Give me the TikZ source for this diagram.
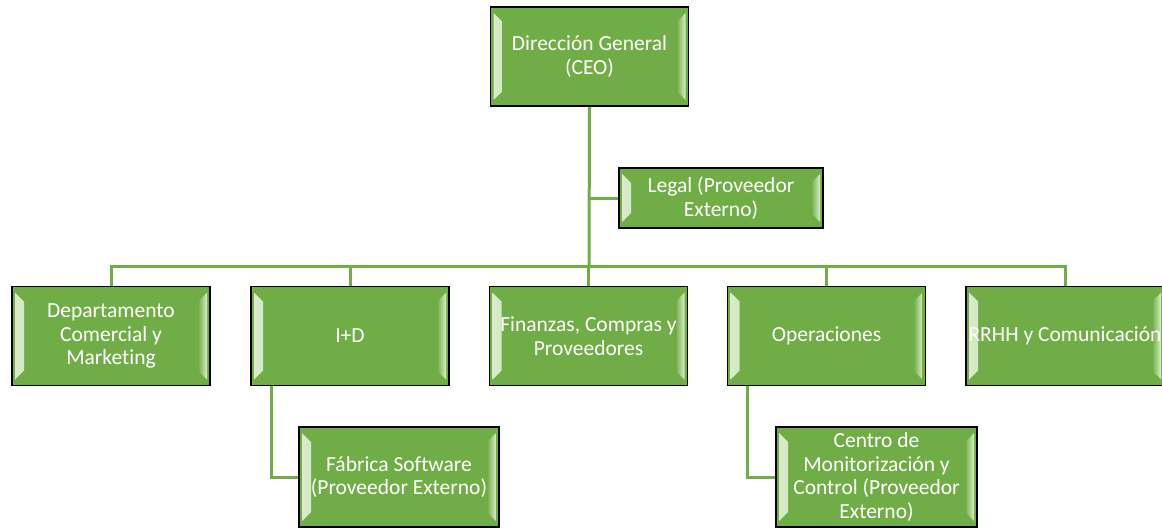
\documentclass[tikz,border=0pt]{standalone}
\usepackage{fontspec}
\setmainfont{Carlito}[Ligatures=NoCommon]
\definecolor{ogreen}{HTML}{70AD47}
\definecolor{olight}{HTML}{D9EDC9}
\begin{document}
\begin{tikzpicture}[x=1pt,y=-1pt,
  conn/.style={draw=ogreen, line width=3pt},
  bev/.style={draw=black, line width=1.8pt, fill=ogreen, text=white,
    minimum width=198pt, minimum height=99pt, inner sep=0pt, align=center,
    font=\fontsize{21.5}{23.5}\selectfont,
    path picture={
      \fill[left color=olight, right color=ogreen]
        ([shift={(3pt,-6pt)}]path picture bounding box.north west) --
        ([shift={(12pt,-15pt)}]path picture bounding box.north west) --
        ([shift={(12pt,15pt)}]path picture bounding box.south west) --
        ([shift={(3pt,6pt)}]path picture bounding box.south west) -- cycle;
      \fill[right color=olight, left color=ogreen]
        ([shift={(-3pt,-6pt)}]path picture bounding box.north east) --
        ([shift={(-12pt,-15pt)}]path picture bounding box.north east) --
        ([shift={(-12pt,15pt)}]path picture bounding box.south east) --
        ([shift={(-3pt,6pt)}]path picture bounding box.south east) -- cycle;
    }}]
\useasboundingbox (0,0) rectangle (1162,531);
\fill[white] (0,0) rectangle (1162,531);

\coordinate (bar) at (589,266);

\node[bev, minimum width=204pt, minimum height=60pt] (legal) at (721,198) {Legal (Proveedor\\Externo)};
\node[bev] (ceo) at (589.5,56.5) {Dirección General\\(CEO)};
\draw[conn] (ceo.south) -- (bar);
\draw[conn] (ceo.south |- legal.west) -- (legal.west);

\node[bev] (b1) at (111,336) {Departamento\\Comercial y\\Marketing};
\node[bev] (b2) at (350,336) {I+D};
\node[bev] (b3) at (588.5,336) {Finanzas, Compras y\\Proveedores};
\node[bev] (b4) at (826.5,336) {Operaciones};
\node[bev] (b5) at (1065,336) {RRHH y Comunicación};

\node[bev, minimum width=200pt, minimum height=100pt] (fab) at (399,477) {Fábrica Software\\(Proveedor Externo)};
\node[bev, minimum width=201pt, minimum height=100pt] (cen) at (876.5,477) {Centro de\\Monitorización y\\Control (Proveedor\\Externo)};

\foreach \b in {b1,b2,b3,b4,b5}{
  \draw[conn] (bar) -| (\b.north);
}
\draw[conn] ([xshift=21pt]b2.south west) |- (fab.west);
\draw[conn] ([xshift=21pt]b4.south west) |- (cen.west);
\end{tikzpicture}
\end{document}
